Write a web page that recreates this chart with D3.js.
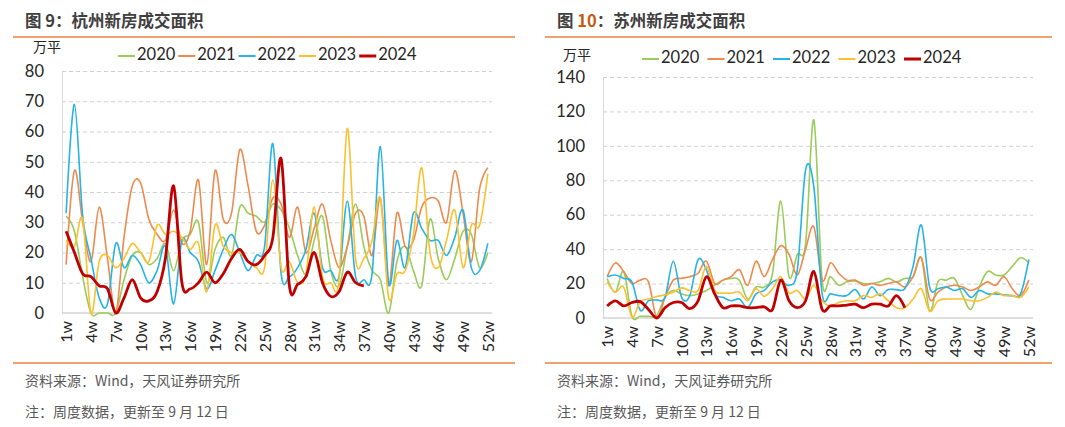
<!DOCTYPE html>
<html><head><meta charset="utf-8">
<script src="https://cdn.jsdelivr.net/npm/d3@7"></script>
<style>
html,body{margin:0;padding:0;background:#fff;}
svg{display:block;}
text{font-family:Lato,"Noto Sans CJK SC",sans-serif;}
.cjk{font-family:"Noto Sans CJK SC",sans-serif;}
</style></head>
<body>
<svg id="chart" width="1065" height="427"></svg>
<script>
// ---------- data ----------
const weeks = d3.range(1, 53);
const labelWeeks = weeks.filter(w => (w - 1) % 3 === 0);
const years = ["2020", "2021", "2022", "2023", "2024"];
const colors = ["#9BCB5B", "#EE8A4E", "#27B3E5", "#FBC02D", "#C00000"];

// 杭州 (万平)
const hz2020 = [32,27,12,0,0,0,0,11,19,20,16,18,23,14,24,26,30,10,21,25,19,35,33,32,30,36,34,28,19,13,24,32,14,9,22,36,22,14,11,0,17,22,14,9,31,18,11,18,27,26,15,20];
const hz2021 = [16,47,30,17,35,18,0,25,42,43,31,26,24,34,23,27,44,16,47,31,33,54,42,27,29,38,36,25,35,20,28,36,24,15,22,33,32,19,38,9,33,22,24,35,38,37,30,47,33,17,41,48];
const hz2022 = [33,69,32,18,5,3,23,15,19,16,10,14,22,3,24,20,17,8,14,21,26,20,14,19,22,56,13,12,15,21,33,15,14,12,37,12,11,13,55,10,24,15,33,28,24,24,19,25,34,15,14,23];
const hz2023 = [24,22,31,0,17,19,15,18,23,20,17,29,26,27,25,21,23,7,29,22,20,20,17,15,15,44,15,17,10,13,35,12,10,11,61,18,18,24,38,5,13,14,26,48,20,15,24,34,15,29,29,46];
const hz2024 = [27,20,13,12,9,8,0,5,11,5,4,7,18,42,10,8,10,13.5,10,13,18,21,17,16,19,25,51,9,9.5,12,20,10,5.5,7,13.5,10,9];

// 苏州 (万平)
const sz2020 = [23,15,27,1,1,1,1.5,12,16,14,13,14,16,19,22,23,22,11,18,18,26,68,24,37,43,115,21.5,24,19,21,21.5,20,20,21,23,21,23,24,35,4,21,22,23,13,5,18,27,25,25,30,35,32];
const sz2021 = [24,32,27,20,22,21,0,12,22,23,24,26,33,20,22,24,28,19,33,24,34,42,37,25,40,53,22,32,26,22,22,19,20,19,20,21,18,24,35,11,15,18,19,18,16,18,21,19,24,17,13,22];
const sz2022 = [24,25,23,21,4.5,10,10.5,12,33,12,13,34,28,14,12,10,11,6,14,16,21,22,19,28,86,76,14,14,13,13,16.5,11,18,13,16.5,16.5,17,30,54,18,17,18,16,17,12,16,14,14,13.5,13,14,34];
const sz2023 = [21,15,18,0.5,9.5,11,12.5,13.5,15,17.5,16,16,30,16,14.5,14.5,15,10,17,12.5,17,24,14.5,16,11,19,10,7,9,10,10,13,12,14,10,6,6,11,17,4,10,11,11,11,10,10,12,15,13,13,12,18];
const sz2024 = [7,10,7,9,9.5,5,0,6,9,9,5.5,10,24,14,6,7,7,6,6,6.5,5,22,10,6,10,27,5,7,7,7.5,8,6,8,8,7,13,6];

const hzTicks = [0,10,20,30,40,50,60,70,80];
const szTicks = [0,20,40,60,80,100,120,140];

const panels = [
  {num:"9", city:"：杭州新房成交面积", series:[hz2020,hz2021,hz2022,hz2023,hz2024], ticks:hzTicks,
   box:{x0:13,x1:515}, plot:{l:62,r:492,t:71,b:313}, unitX:33, unitY:48, legendX:118, legendStep:60.3, legendY:56, srcX:25},
  {num:"10", city:"：苏州新房成交面积", series:[sz2020,sz2021,sz2022,sz2023,sz2024], ticks:szTicks,
   box:{x0:545,x1:1052}, plot:{l:603,r:1033,t:77,b:318}, unitX:563, unitY:56, legendX:642, legendStep:65.5, legendY:59, srcX:557}
];

const svg = d3.select("#chart");

panels.forEach((p, pi) => {
  const g = svg.append("g");
  // title
  const t = g.append("text").attr("class","cjk").attr("x", p.srcX).attr("y", 27)
    .attr("font-size", 16.5).attr("font-weight", "bold").attr("fill", "#3f3f3f");
  t.append("tspan").text("图 ");
  t.append("tspan").attr("fill", pi === 1 ? "#C55A11" : "#3f3f3f").text(p.num);
  t.append("tspan").text(p.city);
  // separators
  g.append("line").attr("x1", p.box.x0).attr("x2", p.box.x1).attr("y1", 37).attr("y2", 37)
    .attr("stroke", "#E9843F").attr("stroke-width", 1.5);
  g.append("line").attr("x1", p.box.x0).attr("x2", p.box.x1).attr("y1", 363).attr("y2", 363)
    .attr("stroke", "#E9843F").attr("stroke-width", 1.5);
  // footers
  g.append("text").attr("class","cjk").attr("x", p.srcX).attr("y", 386).attr("font-size", 14)
    .attr("fill", "#595959").text("资料来源：Wind，天风证券研究所");
  g.append("text").attr("class","cjk").attr("x", p.srcX).attr("y", 417).attr("font-size", 14)
    .attr("fill", "#595959").text("注：周度数据，更新至 9 月 12 日");

  // scales
  const x = d3.scalePoint().domain(weeks).range([p.plot.l, p.plot.r]).padding(0.5);
  const y = d3.scaleLinear().domain([0, d3.max(p.ticks)]).range([p.plot.b, p.plot.t]);

  // gridlines
  const grid = g.append("g").attr("transform", `translate(${p.plot.l},0)`)
    .call(d3.axisLeft(y).tickValues(p.ticks.slice(1)).tickSize(-(p.plot.r - p.plot.l)).tickFormat(""));
  grid.select(".domain").remove();
  grid.selectAll(".tick line").attr("stroke", "#D0D0D0").attr("stroke-dasharray", "4,3").attr("stroke-width", 1);

  // y axis labels
  const ya = g.append("g").attr("transform", `translate(${p.plot.l},0)`)
    .call(d3.axisLeft(y).tickValues(p.ticks).tickSize(0).tickPadding(18));
  ya.select(".domain").attr("stroke", "#D9D9D9");
  ya.selectAll("text").attr("font-size", 16.5).attr("fill", "#262626");

  // x axis
  const xa = g.append("g").attr("transform", `translate(0,${p.plot.b})`)
    .call(d3.axisBottom(x).tickValues(labelWeeks).tickSize(0).tickFormat(d => d + "w"));
  xa.select(".domain").attr("stroke", "#BFBFBF").attr("stroke-width", 1.2)
    .attr("d", `M${p.plot.l},0H${p.plot.r}`);
  xa.selectAll("text").attr("transform", "rotate(-90)").attr("x", -8).attr("y", 0)
    .attr("dy", "0.35em").style("text-anchor", "end").attr("font-size", 16).attr("fill", "#262626");

  // unit
  g.append("text").attr("class","cjk").attr("x", p.unitX).attr("y", p.unitY).attr("font-size", 14)
    .attr("fill", "#262626").attr("dominant-baseline", "middle").text("万平");

  // legend
  years.forEach((yr, i) => {
    const lx = p.legendX + i * p.legendStep;
    g.append("line").attr("x1", lx).attr("x2", lx + 17).attr("y1", p.legendY).attr("y2", p.legendY)
      .attr("stroke", colors[i]).attr("stroke-width", i === 4 ? 3 : 2);
    g.append("text").attr("x", lx + 19).attr("y", p.legendY).attr("dominant-baseline", "middle")
      .attr("font-size", 16.5).attr("fill", "#262626").text(yr);
  });

  // lines
  const line = d3.line().x((d, i) => x(weeks[i])).y(d => y(d)).curve(d3.curveCardinal.tension(0));
  p.series.forEach((s, i) => {
    g.append("path").datum(s).attr("d", line).attr("fill", "none")
      .attr("stroke", colors[i]).attr("stroke-width", i === 4 ? 2.8 : 1.6)
      .attr("stroke-linejoin", "round");
  });
});
</script>
</body></html>
